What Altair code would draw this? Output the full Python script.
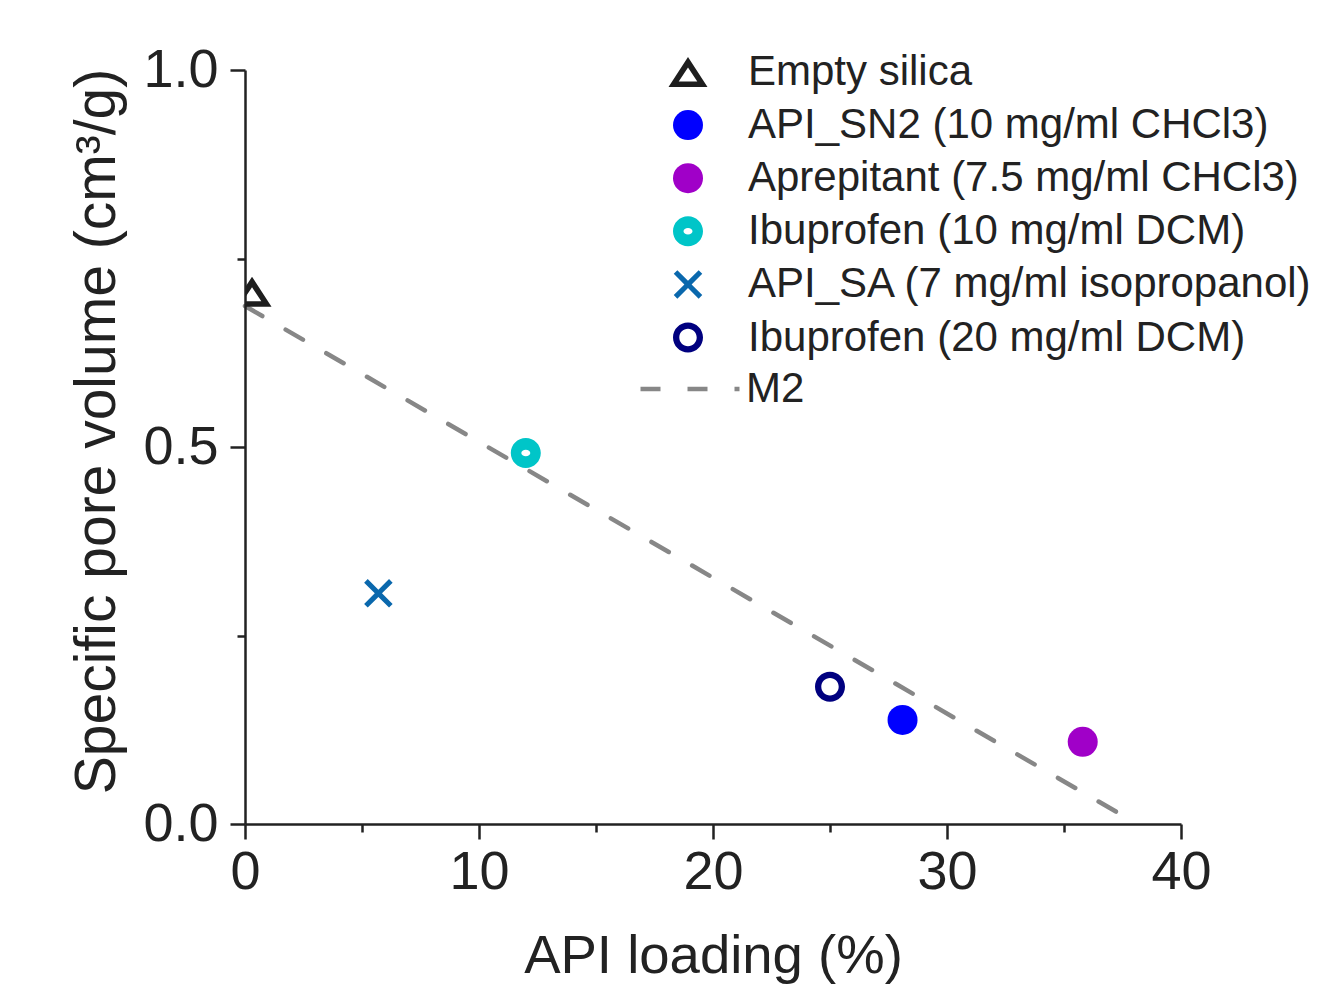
import altair as alt
import pandas as pd

# ---- data ----
series = [
    "Empty silica",
    "API_SN2 (10 mg/ml CHCl3)",
    "Aprepitant (7.5 mg/ml CHCl3)",
    "Ibuprofen (10 mg/ml DCM)",
    "API_SA (7 mg/ml isopropanol)",
    "Ibuprofen (20 mg/ml DCM)",
]
loading = [0.3, 28.1, 35.8, 12.0, 5.7, 25.0]
pore_volume = [0.706, 0.138, 0.109, 0.492, 0.306, 0.182]

m2_name = ["M2", "M2"]
m2_loading = [0.0, 37.3]
m2_volume = [0.687, 0.015]

x_ticks = [0, 5, 10, 15, 20, 25, 30, 35, 40]
y_ticks = [0.0, 0.25, 0.5, 0.75, 1.0]

# ---- styles ----
colors = ["#1e1e1e", "#0000ff", "#a000c8", "#00c5c8", "#0a68ad", "#00007f"]
tri = ("M0,-1.0L1.3,1.0L-1.3,1.0Z"
       "M0,-0.3L-0.62,0.63L0.62,0.63Z")
disc = "circle"
thick_ring = ("M-1,0A1,1,0,1,1,1,0A1,1,0,1,1,-1,0Z"
              "M-0.3,0A0.3,0.22,0,1,0,0.3,0A0.3,0.22,0,1,0,-0.3,0Z")
a, w = 0.95, 0.24
xmark = (f"M0,{-w}L{a-w},{-a}L{a},{-a+w}L{w},0L{a},{a-w}L{a-w},{a}"
         f"L0,{w}L{-a+w},{a}L{-a},{a-w}L{-w},0L{-a},{-a+w}L{-a+w},{-a}Z")
thin_ring = ("M-1,0A1,1,0,1,1,1,0A1,1,0,1,1,-1,0Z"
             "M-0.58,0A0.58,0.58,0,1,0,0.58,0A0.58,0.58,0,1,0,-0.58,0Z")
shapes = [tri, disc, disc, thick_ring, xmark, thin_ring]

FONT = "Liberation Sans"
INK = "#222222"

pts = pd.DataFrame({"series": series, "loading": loading, "volume": pore_volume})
m2 = pd.DataFrame({"series": m2_name, "loading": m2_loading, "volume": m2_volume})

xscale = alt.Scale(domain=[0, 40], nice=False, zero=False)
yscale = alt.Scale(domain=[0, 1], nice=False, zero=False)

xaxis = alt.Axis(
    values=x_ticks, format="d", grid=False, title="API loading (%)",
    labelExpr="datum.value % 10 === 0 ? datum.label : ''",
    tickSize={"condition": {"test": "datum.value % 10 !== 0", "value": 8}, "value": 15},
    labelFontSize=54, titleFontSize=54.5, labelPadding=6, titlePadding=30,
    labelFlush=False, labelOverlap=False, zindex=1,
)
yaxis = alt.Axis(
    values=y_ticks, format=".1f", grid=False, title="Specific pore volume (cm³/g)",
    labelExpr="datum.value % 0.5 === 0 ? datum.label : ''",
    tickSize={"condition": {"test": "datum.value % 0.5 !== 0", "value": 8}, "value": 15},
    labelFontSize=54, titleFontSize=57, labelPadding=12, titlePadding=16,
    titleY=361,
    labelFlush=False, labelOverlap=False, zindex=1,
)

pt_legend = alt.Legend(
    title=None, orient="none", legendX=422, legendY=-19, padding=0,
    symbolSize=900, symbolStrokeWidth=0, symbolOpacity=1,
    labelFontSize=42, labelFont=FONT, labelColor=INK, labelOffset=39,
    labelLimit=1000, rowPadding=11.1,
)

line = alt.Chart(m2).mark_line(
    color="#878787", strokeWidth=4.5, strokeCap="round"
).encode(
    x=alt.X("loading:Q", scale=xscale, axis=xaxis),
    y=alt.Y("volume:Q", scale=yscale, axis=yaxis),
    strokeDash=alt.StrokeDash(
        "series:N",
        scale=alt.Scale(domain=["M2"], range=[[20, 27]]),
        legend=alt.Legend(
            title=None, orient="none", legendX=393, legendY=267, padding=0,
            symbolType="stroke", symbolSize=9800, symbolStrokeWidth=4.5,
            symbolStrokeColor="#878787",
            labelFontSize=42, labelFont=FONT, labelColor=INK, labelOffset=4,
        ),
    ),
)

points = alt.Chart(pts).mark_point(
    filled=True, size=900, opacity=1, strokeWidth=0, clip=True
).encode(
    x=alt.X("loading:Q", scale=xscale, axis=xaxis),
    y=alt.Y("volume:Q", scale=yscale, axis=yaxis),
    color=alt.Color("series:N", scale=alt.Scale(domain=series, range=colors), legend=pt_legend),
    shape=alt.Shape("series:N", scale=alt.Scale(domain=series, range=shapes), legend=pt_legend),
)

chart = alt.layer(line, points).properties(
    width=936, height=754,
    autosize=alt.AutoSizeParams(type="none"),
    padding={"left": 237, "top": 62, "right": 135, "bottom": 166},
    background="white",
).configure_view(strokeWidth=0).configure_axis(
    domainColor=INK, domainWidth=2.5, tickColor=INK, tickWidth=2.5,
    labelFont=FONT, titleFont=FONT, labelColor=INK, titleColor=INK,
    titleFontWeight="normal",
)

chart.save("out.html", embed_options={"renderer": "svg", "actions": False})
